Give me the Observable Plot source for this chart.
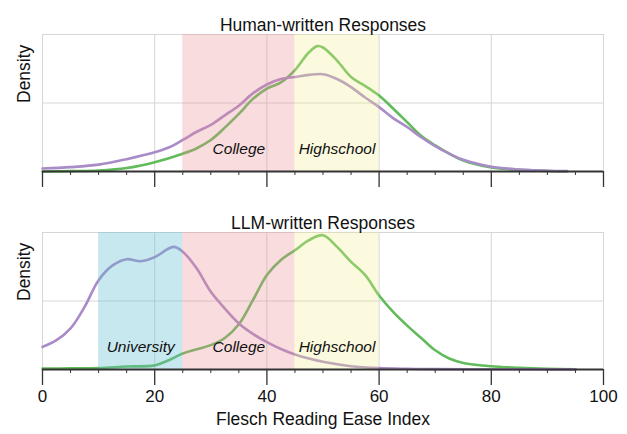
<!DOCTYPE html>
<html><head><meta charset="utf-8">
<script src="https://cdn.jsdelivr.net/npm/d3@7"></script>
<script src="https://cdn.jsdelivr.net/npm/@observablehq/plot@0.6"></script>
<style>
body{margin:0;background:#fff;}
#chart svg{display:block;}
</style></head><body><div id="chart"></div>
<script>
// ---- data ----
const seriesNames = ["Series A", "Series B"];
const majorTicks = [0, 20, 40, 60, 80, 100];
const minorTicks = [5, 10, 15, 25, 30, 35, 45, 50, 55, 65, 70, 75, 85, 90, 95];
const gridTicks = [20, 40, 60, 80];
const bandNames = ["University", "College", "Highschool"];
const bandStart = [10, 25, 45];
const bandEnd = [25, 45, 60];
const humanBandNames = ["College", "Highschool"];
const llmBandNames = ["University", "College", "Highschool"];
const panelTitles = ["Human-written Responses", "LLM-written Responses"];

// Human-written panel
const humanAX = [0,5,10,15,20,25,27.5,30,32.5,35,37.5,40,42.5,45,47.5,49,50,52.5,55,57.5,60,62.5,65,67.5,70,72.5,75,80,85,90,93.5];
const humanAY = [0.0,0.003,0.007,0.025,0.068,0.13,0.17,0.23,0.32,0.42,0.53,0.605,0.65,0.74,0.87,0.915,0.905,0.81,0.69,0.625,0.555,0.46,0.36,0.26,0.19,0.13,0.08,0.03,0.012,0.004,0.002];
const humanBX = [0,5,10,15,20,22.5,25,27.5,30,32.5,35,37.5,40,42.5,45,47.5,50,52.5,55,57.5,60,62.5,65,67.5,70,72.5,75,80,85,90,93.5];
const humanBY = [0.022,0.032,0.05,0.09,0.14,0.175,0.23,0.29,0.34,0.41,0.48,0.57,0.635,0.675,0.69,0.705,0.71,0.675,0.616,0.54,0.47,0.39,0.325,0.25,0.185,0.13,0.085,0.035,0.015,0.006,0.003];

// LLM-written panel
const llmAX = [0,5,10,15,20,22.5,25,27.5,30,32.5,35,37.5,40,42.5,45,47.5,50,52.5,55,57.5,60,62.5,65,67.5,70,72.5,75,80,85,90,95];
const llmAY = [0.007,0.008,0.01,0.022,0.03,0.068,0.117,0.148,0.178,0.23,0.33,0.506,0.69,0.80,0.87,0.944,0.98,0.895,0.786,0.69,0.54,0.42,0.32,0.23,0.14,0.08,0.048,0.024,0.012,0.005,0.002];
const llmBX = [0,2.5,5,7.5,10,12.5,15,17.5,20,22.5,23.5,25,27.5,30,32.5,35,37.5,40,42.5,45,47.5,50,55,60,65,70,80,90,95];
const llmBY = [0.165,0.214,0.30,0.457,0.652,0.76,0.805,0.79,0.82,0.883,0.895,0.86,0.737,0.567,0.445,0.336,0.26,0.2,0.15,0.11,0.08,0.056,0.024,0.01,0.005,0.003,0.002,0.001,0.001];

// ---- build ----
const bandFill = {University: "#62bdd1", College: "#eb8a91", Highschool: "#f5ee91"};
const bandOpacity = {University: 0.35, College: 0.3, Highschool: 0.3};

function rows(xs, ys, name) { return xs.map((x, i) => ({series: name, x, y: ys[i]})); }
function bands(names) {
  return names.map(n => { const i = bandNames.indexOf(n); return {name: n, start: bandStart[i], end: bandEnd[i]}; });
}

const FONT = "'Liberation Sans', Arial, Helvetica, sans-serif";

function panel({title, data, bandList, height, marginTop, marginBottom, showLabels}) {
  const frameH = height - marginTop - marginBottom;
  const marks = [
    Plot.gridX(gridTicks, {stroke: "#d6d6d6", strokeOpacity: 1, strokeWidth: 1}),
    Plot.gridY([0.5], {stroke: "#d6d6d6", strokeOpacity: 1, strokeWidth: 1}),
    Plot.frame({stroke: "#d6d6d6"}),
    Plot.line(data, {x: "x", y: "y", z: "series", stroke: "series", strokeWidth: 2.6, curve: "catmull-rom"}),
    Plot.rect(bandList, {x1: "start", x2: "end", fill: d => bandFill[d.name], fillOpacity: d => bandOpacity[d.name]}),
    Plot.text(bandList, {x: d => (d.start + d.end) / 2, text: "name", frameAnchor: "bottom", dy: -18, fontStyle: "italic", fontSize: 15.5, fill: "#111"}),
    Plot.ruleY([0], {stroke: "#333", strokeWidth: 2}),
    Plot.tickX(minorTicks, {x: d => d, stroke: "#333", strokeWidth: 1, insetTop: frameH, insetBottom: -4}),
    Plot.tickX(majorTicks, {x: d => d, stroke: "#333", strokeWidth: 1.3, insetTop: frameH, insetBottom: -16}),
    Plot.text([title], {frameAnchor: "top", dy: -16, text: d => d, fontSize: 17.5, fill: "#111"}),
    Plot.text(["Density"], {frameAnchor: "left", dx: -18, rotate: -90, text: d => d, fontSize: 17.5, fill: "#111"})
  ];
  if (showLabels) {
    marks.push(Plot.text(majorTicks, {x: d => d, text: d => String(d), frameAnchor: "bottom", dy: 32, fontSize: 17, fill: "#111"}));
    marks.push(Plot.text(["Flesch Reading Ease Index"], {frameAnchor: "bottom", dy: 55, text: d => d, fontSize: 17.5, fill: "#111"}));
  }
  return Plot.plot({
    width: 627, height, marginTop, marginBottom, marginLeft: 42, marginRight: 24,
    style: {fontFamily: FONT, fontSize: "17px", background: "#fff", color: "#111", overflow: "visible"},
    x: {domain: [0, 100], axis: null},
    y: {domain: [0, 1], axis: null},
    color: {domain: seriesNames, range: ["#62bb5a", "#a98bc8"]},
    marks
  });
}

const humanData = [...rows(humanAX, humanAY, seriesNames[0]), ...rows(humanBX, humanBY, seriesNames[1])];
const llmData = [...rows(llmAX, llmAY, seriesNames[0]), ...rows(llmBX, llmBY, seriesNames[1])];

const root = document.getElementById("chart");
root.appendChild(panel({title: panelTitles[0], data: humanData, bandList: bands(humanBandNames), height: 200, marginTop: 34, marginBottom: 29, showLabels: false}));
root.appendChild(panel({title: panelTitles[1], data: llmData, bandList: bands(llmBandNames), height: 234, marginTop: 32, marginBottom: 65, showLabels: true}));
</script>
</body></html>
